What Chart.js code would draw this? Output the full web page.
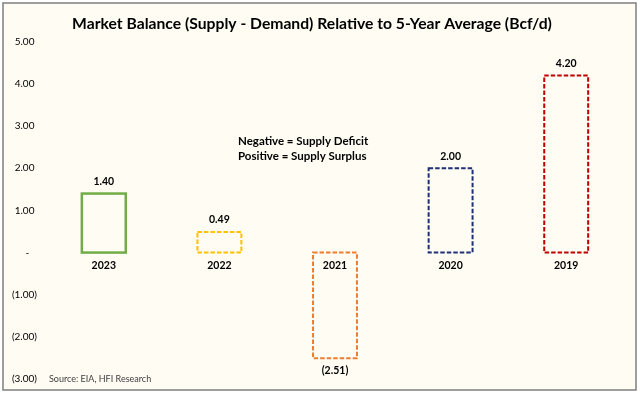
<!DOCTYPE html>
<html>
<head>
<meta charset="utf-8">
<script src="https://cdn.jsdelivr.net/npm/chart.js@4.4.1/dist/chart.umd.min.js"></script>
<style>
    body { margin: 0; background: #fff; }
    #wrap { width: 640px; height: 396px; }
</style>
</head>
<body>
<div id="wrap"><canvas id="myChart-balance" width="640" height="396"></canvas></div>
<script>
var years = ["2023", "2022", "2021", "2020", "2019"];
var balance = [1.40, 0.49, -2.51, 2.00, 4.20];
var barColors = ["#70ad47", "#ffc000", "#ed7d31", "#1f2f78", "#c00000"];
var barDashed = [false, true, true, true, true];

var fontName = "Lato, 'Open Sans', sans-serif";

function fmt(v) {
    if (v < 0) return "(" + Math.abs(v).toFixed(2) + ")";
    return v.toFixed(2);
}

//========== background + frame
var framePlugin = {
    id: 'frame',
    beforeDraw: function (chart) {
        var ctx = chart.ctx;
        ctx.save();
        ctx.fillStyle = '#fffcf3';
        ctx.fillRect(3, 3, 633, 387);
        ctx.strokeStyle = '#7f7f7f';
        ctx.lineWidth = 1.5;
        ctx.strokeRect(3, 3, 633, 387);
        ctx.restore();
    }
};

//========== dashed outlines + value labels
var outlinePlugin = {
    id: 'outline',
    afterDatasetsDraw: function (chart) {
        var ctx = chart.ctx;
        var meta = chart.getDatasetMeta(0);
        ctx.save();
        meta.data.forEach(function (bar, i) {
            var p = bar.getProps(['x', 'y', 'base', 'width'], true);
            var left = p.x - p.width / 2;
            var top = Math.min(p.y, p.base);
            var h = Math.abs(p.base - p.y);
            ctx.strokeStyle = barColors[i];
            ctx.lineWidth = barDashed[i] ? 2 : 2.5;
            ctx.setLineDash(barDashed[i] ? [4.5, 2] : []);
            ctx.strokeRect(left, top, p.width, h);

            ctx.setLineDash([]);
            ctx.fillStyle = '#000';
            ctx.font = 'bold 10.5px ' + fontName;
            ctx.textAlign = 'center';
            ctx.textBaseline = 'middle';
            var v = balance[i];
            var ty = v >= 0 ? p.y - 12 : p.y + 12;
            ctx.fillText(fmt(v), p.x, ty);
        });

        // note + source
        var area = chart.chartArea;
        ctx.textAlign = 'left';
        ctx.textBaseline = 'middle';
        ctx.font = 'bold 11.5px ' + fontName;
        ctx.fillText('Negative = Supply Deficit', 238, 141);
        ctx.fillText('Positive = Supply Surplus', 238, 156);
        ctx.font = '9px ' + fontName;
        ctx.fillStyle = '#404040';
        ctx.fillText('Source: EIA, HFI Research', area.left + 3, area.bottom);
        ctx.restore();
    }
};

var chartBalance = document.getElementById('myChart-balance');
new Chart(chartBalance, {
    type: 'bar',
    plugins: [framePlugin, outlinePlugin],
    data: {
        labels: years,
        datasets: [{
            data: balance,
            backgroundColor: 'rgba(0,0,0,0)',
            borderWidth: 0,
            barPercentage: 0.38,
            categoryPercentage: 1
        }]
    },
    options: {
        responsive: false,
        animation: false,
        layout: {
            padding: { top: 8, right: 16, bottom: 17, left: 0 }
        },
        plugins: {
            legend: { display: false },
            tooltip: { enabled: false },
            title: {
                display: true,
                text: 'Market Balance (Supply - Demand) Relative to 5-Year Average (Bcf/d)',
                color: '#000',
                font: { family: fontName, size: 15.7, weight: 'bold' },
                padding: { top: 7, bottom: 8 }
            }
        },
        scales: {
            x: {
                position: { y: 0 },
                grid: { display: false, drawTicks: false },
                border: { display: false },
                ticks: {
                    color: '#000',
                    padding: 7,
                    font: { family: fontName, size: 10.5, weight: 'bold' }
                }
            },
            y: {
                min: -3,
                max: 5,
                grid: { display: false, drawTicks: false },
                border: { display: false },
                afterFit: function (scale) { scale.width = 46; },
                ticks: {
                    stepSize: 1,
                    color: '#000',
                    padding: 9,
                    font: { family: fontName, size: 10 },
                    callback: function (v) {
                        if (v === 0) return '-   ';
                        if (v < 0) return fmt(v);
                        return fmt(v) + ' ';
                    }
                }
            }
        }
    }
});
</script>
</body>
</html>
